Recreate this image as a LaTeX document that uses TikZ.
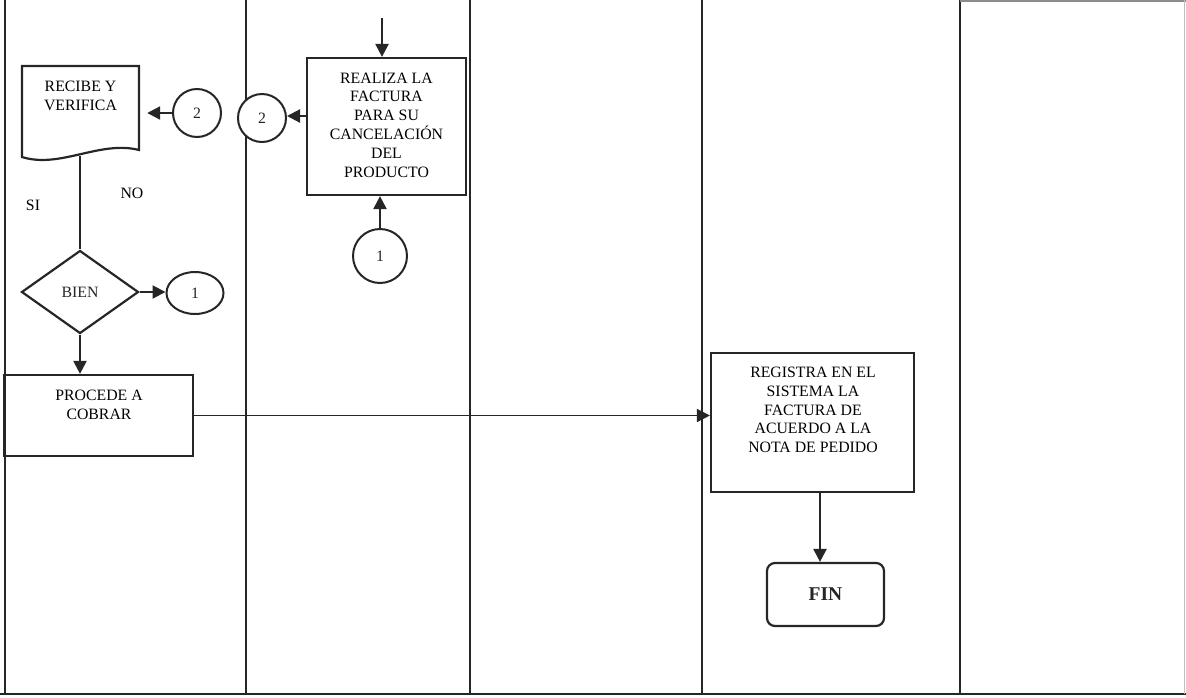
\documentclass[tikz,border=0pt]{standalone}
\usepackage{fontspec}
\setmainfont{Liberation Serif}
\usetikzlibrary{arrows.meta,shapes.geometric,calc}
\newcommand\fsz{\fontsize{15.8}{18.8}\selectfont}
\begin{document}
\begin{tikzpicture}[x=1pt,y=-1pt,
  lane/.style={line width=1.3pt, black!85},
  shp/.style={draw, line width=2.2pt, black!85, inner sep=0pt},
  txt/.style={align=center, font=\fsz, inner sep=0pt},
  conn/.style={circle, draw, line width=2pt, black!85, fill=white, minimum size=48pt, inner sep=0pt, font=\fsz},
  arr/.style={line width=2.2pt, black!85, -{Triangle[length=13pt,width=13pt]}},
  plain/.style={line width=2pt, black!85}]
\useasboundingbox (0,0) rectangle (1186,697);
% lanes
\draw[lane] (5,0) -- (5,694);
\draw[lane] (246,0) -- (246,694);
\draw[lane] (470,0) -- (470,694);
\draw[lane] (702,0) -- (702,694);
\draw[lane] (960,0) -- (960,694);
\draw[line width=1.8pt, black!85] (0,694) -- (1186,694);
\draw[line width=2.2pt, black!45] (960,1) -- (1186,1);
\draw[line width=1pt, black!25] (1184,0) -- (1184,694);
% document shape
\node[minimum width=117pt, minimum height=91pt, inner sep=0pt] (recibe) at (80.5,111.5) {};
\draw[shp] (22,66) -- (139,66) -- (139,150) .. controls (100,140) and (60,169) .. (22,157) -- cycle;
\node[txt] (recibetxt) at (80.5,96) {RECIBE Y\\VERIFICA};
\coordinate (docb) at (80,156);
% diamond
\node[shp, diamond, minimum width=117pt, minimum height=83pt, font=\fsz] (bien) at (80,292) {BIEN};
\draw[plain] (docb) -- (bien.north);
\node[font=\fsz] (si) at (33,205) {SI};
\node[font=\fsz] (no) at (132,193) {NO};
% connectors
\node[conn] (c2a) at (197,113) {2};
\node[conn] (c2b) at (262,118) {2};
\node[ellipse, draw, line width=2pt, black!85, fill=white, minimum width=57pt, minimum height=42pt, inner sep=0pt, font=\fsz] (c1a) at (195,293) {1};
\node[conn, minimum size=54pt] (c1b) at (380,256) {1};
% realiza
\node[shp, minimum width=159pt, minimum height=137pt] (realiza) at (386.5,126.5) {};
\node[txt] (realizatxt) at (386.5,125) {REALIZA LA\\FACTURA\\PARA SU\\CANCELACIÓN\\DEL\\PRODUCTO};
\coordinate (topin) at (382,18);
% procede
\node[shp, minimum width=189pt, minimum height=81pt] (procede) at (98.5,415.5) {};
\node[txt] (procedetxt) at (99,405) {PROCEDE A\\COBRAR};
% registra
\node[shp, minimum width=203pt, minimum height=139pt] (registra) at (812.5,422.5) {};
\node[txt] (registratxt) at (813,410) {REGISTRA EN EL\\SISTEMA LA\\FACTURA DE\\ACUERDO A LA\\NOTA DE PEDIDO};
\coordinate (rgout) at (820,492);
% fin
\node[shp, rounded corners=8pt, minimum width=117pt, minimum height=63pt, font=\fontsize{19.5}{22}\selectfont\bfseries] (fin) at (825.5,594.5) {FIN};
% arrows
\draw[arr, shorten >=8pt] (c2a.west) -- (c2a.west -| recibe.east);
\draw[arr] (realiza.west |- 0,116) -- (c2b.east |- 0,116);
\draw[arr] (topin) -- (topin |- realiza.north);
\draw[arr] (c1b.north) -- (c1b.north |- realiza.south);
\draw[arr] (bien.east) -- (bien.east -| c1a.west);
\draw[arr] (bien.south) -- (bien.south |- procede.north);
\draw[arr, line width=1.6pt] (procede.east) -- (procede.east -| registra.west);
\draw[arr] (rgout) -- (rgout |- fin.north);
\end{tikzpicture}
\end{document}
